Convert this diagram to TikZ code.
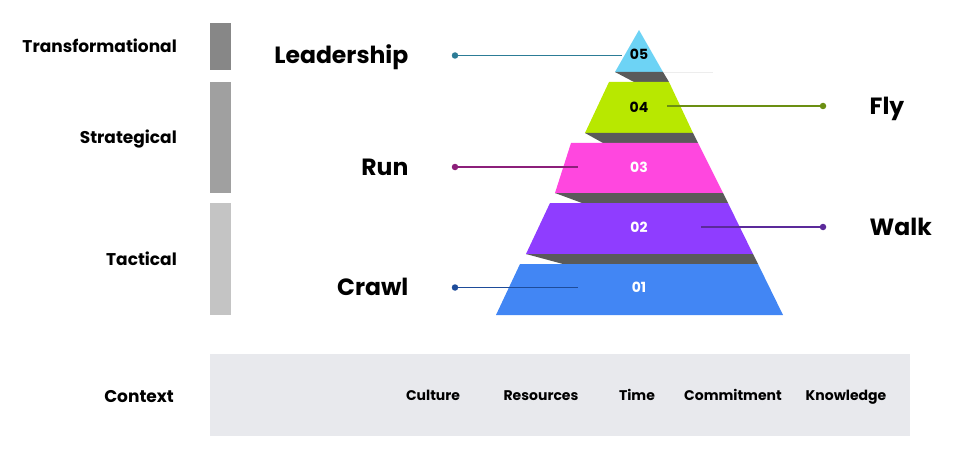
\documentclass[tikz,border=0pt]{standalone}
\usepackage{fontspec}
\setmainfont{Poppins}
\usepackage{xcolor}
\usepackage{tikz}
\usetikzlibrary{positioning}
\definecolor{tierA}{HTML}{4286F4}
\definecolor{tierB}{HTML}{8F3DFF}
\definecolor{tierC}{HTML}{FF47DF}
\definecolor{tierD}{HTML}{B8E800}
\definecolor{tierE}{HTML}{6DD3F5}
\definecolor{tiershade}{HTML}{5A5A5A}
\definecolor{lineA}{HTML}{1E4C9A}
\definecolor{lineB}{HTML}{5B2A9A}
\definecolor{lineC}{HTML}{8C1F7A}
\definecolor{lineD}{HTML}{6B8F12}
\definecolor{lineE}{HTML}{2C7C96}
\definecolor{barA}{HTML}{878787}
\definecolor{barB}{HTML}{A0A0A0}
\definecolor{barC}{HTML}{C4C4C4}
\definecolor{ctxgray}{HTML}{E8E9ED}
\begin{document}
\begin{tikzpicture}[x=1pt,y=-1pt,
    every node/.style={font=\bfseries,inner sep=0pt},
    stage/.style={font=\fontsize{23.5}{26}\selectfont\bfseries,text height=16.6pt,text depth=0pt},
    band/.style={font=\fontsize{17}{20}\selectfont\bfseries,text height=12pt,text depth=0pt,anchor=east},
    factor/.style={font=\fontsize{14}{17}\selectfont\bfseries,text height=9.9pt,text depth=0pt},
    num/.style={font=\fontsize{14}{16}\selectfont\bfseries,text height=9.9pt,text depth=0pt},
    dot/.style={circle,minimum size=6.5pt,inner sep=0pt},
    lead/.style={line width=1.1pt}]
        \useasboundingbox (0,0) rectangle (961,468);
        % pyramid tiers and their shadows
        \fill[tierE] (639,30) -- (663,72) -- (615,72) -- cycle;
        \draw[black!7,line width=0.8pt] (663,72) -- (713,72);
        \fill[tiershade] (615,72) -- (663,72) -- (669,82) -- (634,82) -- cycle;
        \fill[tierD] (609,82) -- (669,82) -- (693,133) -- (585,133) -- cycle;
        \fill[tiershade] (585,133) -- (693,133) -- (698,143) -- (603,143) -- cycle;
        \fill[tierC] (571,143) -- (698,143) -- (723,193) -- (555,193) -- cycle;
        \fill[tiershade] (555,193) -- (723,193) -- (728,203) -- (582,203) -- cycle;
        \fill[tierB] (550,203) -- (728,203) -- (753,254) -- (526,254) -- cycle;
        \fill[tiershade] (526,254) -- (753,254) -- (758,264) -- (563,264) -- cycle;
        \fill[tierA] (520,264) -- (758,264) -- (783,315) -- (496,315) -- cycle;
        \node[num] (n5) at (639,55) {05};
        \node[num] (n4) at (639,108) {04};
        \node[num,white] (n3) at (639,168) {03};
        \node[num,white] (n2) at (639,228) {02};
        \node[num,white] (n1) at (639,288) {01};

        % levels on the left
        \fill[barA] (210,23) rectangle (231,70);
        \fill[barB] (210,82) rectangle (231,193);
        \fill[barC] (210,203) rectangle (231,315);
        \node[band] (tf) at (177,47) {Transformational};
        \node[band] (st) at (177,137) {Strategical};
        \node[band] (tc) at (177,259) {Tactical};

        % stage callouts
        \node[dot,fill=lineE] (dLead) at (455,55.5) {};
        \node[dot,fill=lineD] (dFly) at (823,106) {};
        \node[dot,fill=lineC] (dRun) at (455,167) {};
        \node[dot,fill=lineB] (dWalk) at (823,227) {};
        \node[dot,fill=lineA] (dCrawl) at (455,287.5) {};
        \coordinate (eLead) at (622,55.5);
        \coordinate (eFly) at (667,106);
        \coordinate (eRun) at (578,167);
        \coordinate (eWalk) at (701,227);
        \coordinate (eCrawl) at (578,287.5);
        \draw[lead,lineE] (dLead) -- (eLead);
        \draw[lead,lineD] (dFly) -- (eFly);
        \draw[lead,lineC] (dRun) -- (eRun);
        \draw[lead,lineB] (dWalk) -- (eWalk);
        \draw[lead,lineA] (dCrawl) -- (eCrawl);
        \node[stage,anchor=east,left=43pt of dLead] (lLead) {Leadership};
        \node[stage,anchor=west,right=43pt of dFly] (lFly) {Fly};
        \node[stage,anchor=east,left=43pt of dRun] (lRun) {Run};
        \node[stage,anchor=west,right=43pt of dWalk] (lWalk) {Walk};
        \node[stage,anchor=east,left=43pt of dCrawl] (lCrawl) {Crawl};

        % context strip
        \fill[ctxgray] (210,354) rectangle (910,436);
        \node[band] (ctx) at (174,396) {Context};
        \node[factor] (f1) at (433,396) {Culture};
        \node[factor] (f2) at (541,396) {Resources};
        \node[factor] (f3) at (637,396) {Time};
        \node[factor] (f4) at (733,396) {Commitment};
        \node[factor] (f5) at (846,396) {Knowledge};
      \end{tikzpicture}
\end{document}
